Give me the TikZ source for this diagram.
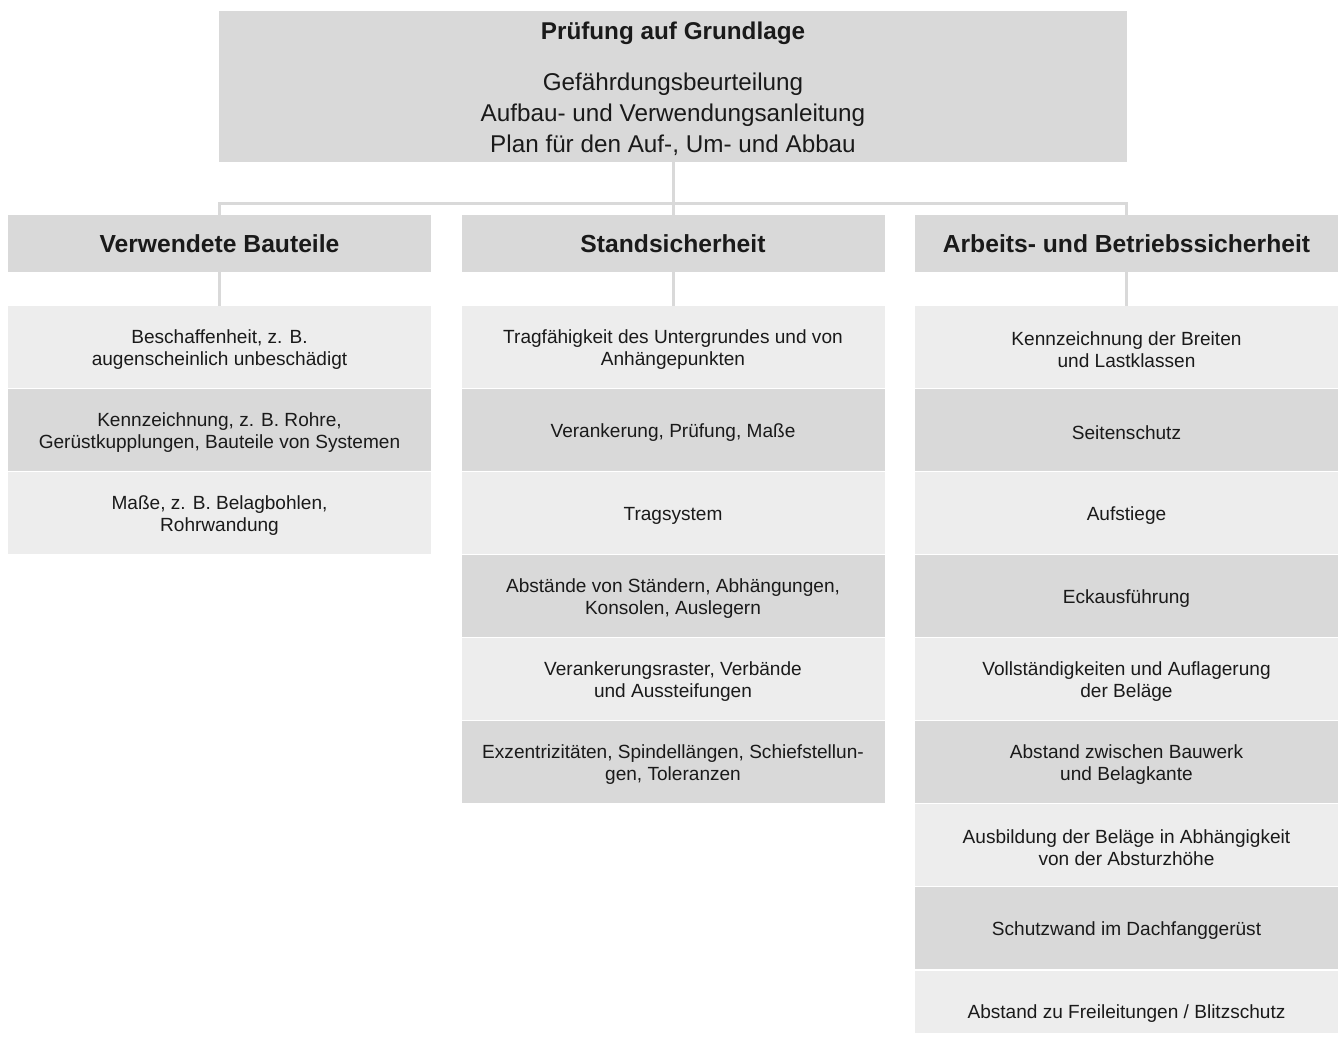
\documentclass[tikz,border=0pt]{standalone}
\usepackage{fontspec}
\setmainfont{Liberation Sans}
\definecolor{boxdark}{HTML}{D9D9D9}
\definecolor{boxlight}{HTML}{EDEDED}
\definecolor{linegray}{HTML}{D9D9D9}
\definecolor{txt}{HTML}{1A1A1A}
\newcommand{\tstrut}{\rule{0pt}{14.8pt}}
\tikzset{
  conn/.style={draw=linegray, line width=2.25pt},
  base/.style={inner sep=0pt, outer sep=0pt, align=center, text=txt, minimum width=317.25pt},
  item/.style={base, minimum height=61.5pt, font=\fontsize{14.3}{16.5}\selectfont},
  lightitem/.style={item, fill=boxlight},
  darkitem/.style={item, fill=boxdark},
  header/.style={base, fill=boxdark, minimum height=42.75pt, font=\bfseries\fontsize{18.5}{20}\selectfont},
  topbox/.style={base, fill=boxdark, minimum width=681pt, minimum height=113.25pt},
  toptext/.style={inner sep=0pt, outer sep=0pt, align=center, text=txt, anchor=base, font=\fontsize{18.2}{23.2}\selectfont}
}
\begin{document}
\begin{tikzpicture}[x=0.75pt, y=-0.75pt]
\useasboundingbox[fill=white] (0,0) rectangle (1340,1043);

\node[topbox] (top) at (673,86.5) {};
\node[toptext] (toptitle) at (673,39) {\bfseries Prüfung auf Grundlage};
\node[toptext] (toplines) at (673,152) {Gefährdungsbeurteilung\\Aufbau- und Verwendungsanleitung\\Plan für den Auf-, Um- und Abbau};

\node[header] (h1) at (219.5,243.5) {Verwendete Bauteile};
\node[header] (h2) at (673,243.5) {Standsicherheit};
\node[header] (h3) at (1126.5,243.5) {Arbeits- und Betriebssicherheit};

% column 1
\node[lightitem] (a1) at (219.5,347) {\tstrut Beschaffenheit, z. B.\\augenscheinlich unbeschädigt};
\node[darkitem]  (a2) at (219.5,430) {\tstrut Kennzeichnung, z. B. Rohre,\\Gerüstkupplungen, Bauteile von Systemen};
\node[lightitem] (a3) at (219.5,513) {\tstrut Maße, z. B. Belagbohlen,\\Rohrwandung};

% column 2
\node[lightitem] (b1) at (673,347) {\tstrut Tragfähigkeit des Untergrundes und von\\Anhängepunkten};
\node[darkitem]  (b2) at (673,430) {\tstrut Verankerung, Prüfung, Maße};
\node[lightitem] (b3) at (673,513) {\tstrut Tragsystem};
\node[darkitem]  (b4) at (673,596) {\tstrut Abstände von Ständern, Abhängungen,\\Konsolen, Auslegern};
\node[lightitem] (b5) at (673,679) {\tstrut Verankerungsraster, Verbände\\und Aussteifungen};
\node[darkitem]  (b6) at (673,762) {\tstrut Exzentrizitäten, Spindellängen, Schiefstellun-\\gen, Toleranzen};

% column 3
\node[lightitem] (c1) at (1126.5,347) {\tstrut Kennzeichnung der Breiten\\und Lastklassen};
\node[darkitem]  (c2) at (1126.5,430) {\tstrut Seitenschutz};
\node[lightitem] (c3) at (1126.5,513) {\tstrut Aufstiege};
\node[darkitem]  (c4) at (1126.5,596) {\tstrut Eckausführung};
\node[lightitem] (c5) at (1126.5,679) {\tstrut Vollständigkeiten und Auflagerung\\der Beläge};
\node[darkitem]  (c6) at (1126.5,762) {\tstrut Abstand zwischen Bauwerk\\und Belagkante};
\node[lightitem] (c7) at (1126.5,845) {\tstrut Ausbildung der Beläge in Abhängigkeit\\von der Absturzhöhe};
\node[darkitem]  (c8) at (1126.5,928) {\tstrut Schutzwand im Dachfanggerüst};
\fill[boxlight] (915,971) rectangle (1338,1033);
\node[item] (c9) at (1126.5,1011) {\tstrut Abstand zu Freileitungen / Blitzschutz};

% connectors
\coordinate (bus) at (673,203);
\draw[conn] (top.south) -- (h2.north);
\draw[conn] (h1.north) |- (bus) -| (h3.north);
\draw[conn] (h1.south) -- (a1.north);
\draw[conn] (h2.south) -- (b1.north);
\draw[conn] (h3.south) -- (c1.north);
\end{tikzpicture}
\end{document}
